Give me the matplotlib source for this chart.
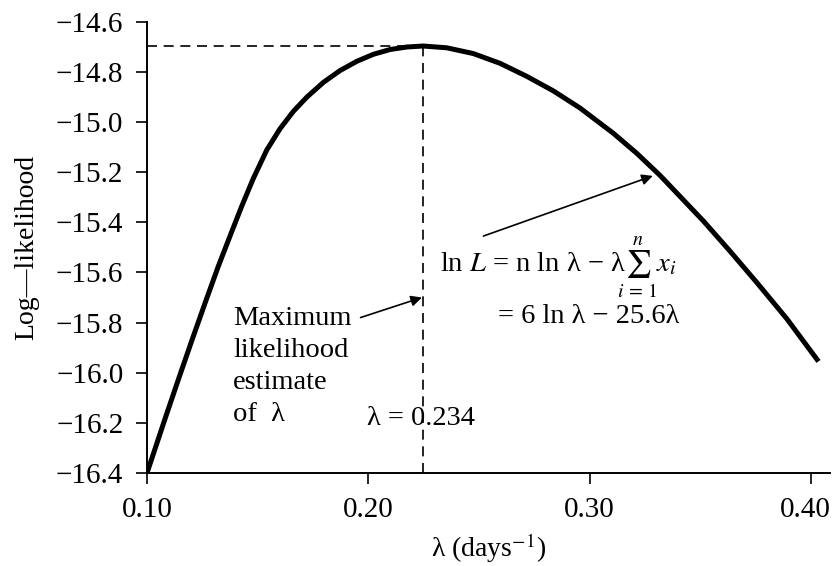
import matplotlib
matplotlib.use("Agg")
import matplotlib.pyplot as plt
import matplotlib.transforms as mtransforms

# values
lam = [0.1000, 0.1081, 0.1141, 0.1202, 0.1262, 0.1322, 0.1383, 0.1428, 0.1480,
       0.1541, 0.1601, 0.1661, 0.1722, 0.1797, 0.1872, 0.1948, 0.2023, 0.2098,
       0.2174, 0.2247, 0.2354, 0.2474, 0.2595, 0.2716, 0.2836, 0.2956, 0.3107,
       0.3213, 0.3318, 0.3514, 0.3634, 0.3755, 0.3891, 0.4034]
loglik = [-16.400, -16.185, -16.029, -15.873, -15.723, -15.576, -15.437, -15.336, -15.226,
          -15.112, -15.027, -14.958, -14.901, -14.842, -14.795, -14.758, -14.730, -14.711,
          -14.701, -14.697, -14.704, -14.727, -14.766, -14.818, -14.876, -14.944, -15.045,
          -15.125, -15.213, -15.395, -15.515, -15.640, -15.785, -15.955]

lam_hat = 0.2247
ll_max = -14.697

xticks = [0.10, 0.20, 0.30, 0.40]
xtick_labels = ["0.10", "0.20", "0.30", "0.40"]
yticks = [-14.6, -14.8, -15.0, -15.2, -15.4, -15.6, -15.8, -16.0, -16.2, -16.4]

plt.rcParams["font.family"] = ["Liberation Serif", "DejaVu Serif"]
plt.rcParams["mathtext.fontset"] = "stix"

fig = plt.figure(figsize=(8.32, 5.66), dpi=100)
ax = fig.add_axes([147 / 832, 1 - 473 / 566, (830 - 147) / 832, (473 - 21.7) / 566])

ax.plot(lam, loglik, color="black", lw=3.6, solid_joinstyle="round", solid_capstyle="butt")

# dashed guides to the maximum
ax.plot([0.10, lam_hat], [ll_max, ll_max], color="black", lw=1.2, ls=(0, (6, 4)))
ax.plot([lam_hat, lam_hat], [-16.4, ll_max], color="black", lw=1.2, ls=(0, (6, 4)))

ax.set_xlim(0.10, 0.4086)
ax.set_ylim(-16.4, -14.6)
ax.set_xticks(xticks)
ax.set_xticklabels(xtick_labels)
ax.set_yticks(yticks)
ax.set_yticklabels(["\u2212%.1f" % abs(v) for v in yticks])

for s in ["top", "right"]:
    ax.spines[s].set_visible(False)
for s in ["left", "bottom"]:
    ax.spines[s].set_linewidth(1.4)
ax.tick_params(direction="out", length=8, width=1.2, labelsize=21)
ax.tick_params(axis="x", pad=9)
ax.tick_params(axis="y", pad=9)

# last x label sits a little left of its tick, as in the original
last = ax.get_xticklabels()[-1]
last.set_transform(last.get_transform() + mtransforms.ScaledTranslation(-6 / 100, 0, fig.dpi_scale_trans))

ax.set_xlabel("\u03bb (days$^{-1}$)", fontsize=20, labelpad=6)
ax.set_ylabel("Log\u2014likelihood", fontsize=20, labelpad=12)

# annotations
ax.text(0.1389, -15.975, "Maximum\nlikelihood\nestimate\nof  \u03bb", fontsize=20.5,
        va="center", ha="left", linespacing=1.38)
ax.annotate("", xy=(lam_hat - 0.0005, -15.70), xytext=(0.1965, -15.78),
            arrowprops=dict(arrowstyle="-|>", color="black", lw=1.2,
                            mutation_scale=16, shrinkA=0, shrinkB=0))
ax.text(0.1993, -16.182, "\u03bb = 0.234", fontsize=20.5, va="center", ha="left")

ax.text(0.2324, -15.58, "ln $L$ = n ln \u03bb \u2212 \u03bb$\\!\\!\\sum_{i\\,=\\,1}^{n}x_i$",
        fontsize=20.5, va="center", ha="left")
ax.text(0.2587, -15.775, "= 6 ln \u03bb \u2212 25.6\u03bb", fontsize=20.5,
        va="center", ha="left")
ax.annotate("", xy=(0.3285, -15.215), xytext=(0.2520, -15.455),
            arrowprops=dict(arrowstyle="-|>", color="black", lw=1.2,
                            mutation_scale=16, shrinkA=0, shrinkB=0))

fig.savefig("out.png", dpi=100)
